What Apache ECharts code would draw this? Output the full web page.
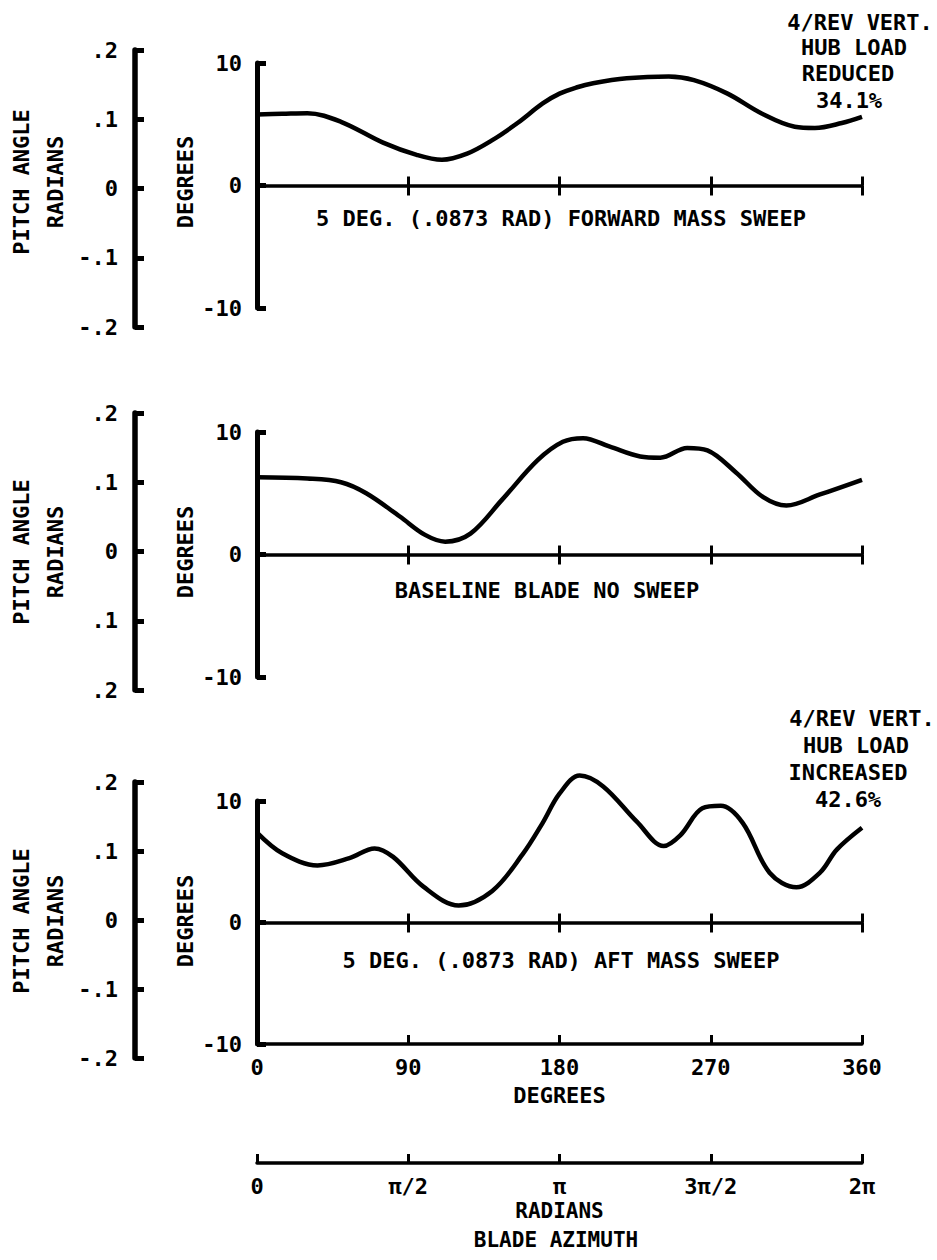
<!DOCTYPE html>
<html>
<head>
<meta charset="utf-8">
<script src="https://cdn.jsdelivr.net/npm/echarts@6/dist/echarts.min.js"></script>
<style>
html,body{margin:0;padding:0;background:#fff;}
#c{width:937px;height:1260px;}
</style>
</head>
<body>
<div id="c"></div>
<script>
// ---- data (blade azimuth in degrees, pitch angle in degrees) ----
const fwdAz    = [0, 15, 30, 50, 75, 95, 110, 125, 140, 155, 170, 180, 190, 200, 220, 245, 260, 280, 300, 320, 332, 348, 360];
const fwdPitch = [5.8, 5.85, 5.9, 5.2, 3.5, 2.5, 2.1, 2.6, 3.7, 5.1, 6.7, 7.5, 8.0, 8.35, 8.75, 8.9, 8.6, 7.5, 5.9, 4.8, 4.7, 5.1, 5.6];

const baseAz    = [0, 30, 50, 65, 85, 100, 112, 127, 146, 167, 182, 194, 210, 228, 240, 256, 268, 285, 301, 315, 335, 360];
const basePitch = [6.3, 6.2, 5.9, 5.0, 3.1, 1.6, 1.05, 1.7, 4.5, 7.7, 9.2, 9.5, 8.8, 8.0, 7.9, 8.7, 8.5, 6.7, 4.7, 4.0, 4.9, 6.1];

const aftAz    = [0, 15, 36, 55, 70, 81, 99, 120, 140, 158, 170, 180, 192, 206, 226, 242, 252, 265, 276, 289, 305, 321, 335, 345, 360];
const aftPitch = [7.4, 5.7, 4.7, 5.3, 6.1, 5.4, 2.95, 1.4, 2.6, 5.6, 8.2, 10.6, 12.1, 11.2, 8.3, 6.3, 7.2, 9.4, 9.6, 8.2, 4.1, 2.9, 4.1, 6.0, 7.8];

// ---- tick labels ----
const degTickLabels  = ['-10', '0', '10'];
const radTickLabelsA = ['-.2', '-.1', '0', '.1', '.2'];
const radTickLabelsB = ['.2', '.1', '0', '.1', '.2'];
const azDegLabels    = ['0', '90', '180', '270', '360'];
const azRadLabels    = ['0', 'π/2', 'π', '3π/2', '2π'];

// ---- texts ----
const captions = ['5 DEG. (.0873 RAD) FORWARD MASS SWEEP', 'BASELINE BLADE NO SWEEP', '5 DEG. (.0873 RAD) AFT MASS SWEEP'];
const noteTop = ['4/REV VERT.', 'HUB LOAD', 'REDUCED', '34.1%'];
const noteBot = ['4/REV VERT.', 'HUB LOAD', 'INCREASED', '42.6%'];

const FONT = '"DejaVu Sans Mono", "Liberation Mono", monospace';
const chart = echarts.init(document.getElementById('c'), null, {renderer: 'svg'});

const L = 257, W = 605;
const degTops = [63, 432, 801];
const degH = [245, 245, 243];
const radTops = [50, 413, 782];
const radH = [277, 277, 276];
const radLabelSets = [radTickLabelsA, radTickLabelsB, radTickLabelsA];

const grid = [], xAxis = [], yAxis = [], series = [];
const lbl = {color: '#000', fontFamily: FONT, fontSize: 22, fontWeight: 'bold'};

function addGrid(g){ grid.push(g); return grid.length - 1; }

const datasets = [[fwdAz, fwdPitch], [baseAz, basePitch], [aftAz, aftPitch]];

for (let p = 0; p < 3; p++) {
  // degrees panel
  const gi = addGrid({left: L, top: degTops[p], width: W, height: degH[p]});
  yAxis.push({type: 'value', gridIndex: gi, min: -10, max: 10, interval: 10,
    axisLine: {show: true, lineStyle: {color: '#000', width: 5}},
    axisTick: {show: true, inside: true, length: 9, lineStyle: {color: '#000', width: 5}},
    axisLabel: Object.assign({margin: 15, formatter: v => degTickLabels[Math.round((v + 10) / 10)]}, lbl),
    splitLine: {show: false}});
  const yi = yAxis.length - 1;
  // zero line with ticks pointing downward
  xAxis.push({type: 'value', gridIndex: gi, min: 0, max: 360, interval: 90, position: 'bottom',
    axisLine: {show: true, onZero: true, lineStyle: {color: '#000', width: 3.5}},
    axisTick: {show: true, inside: false, length: 10, lineStyle: {color: '#000', width: 3}},
    axisLabel: {show: false}, splitLine: {show: false}});
  const xi = xAxis.length - 1;
  const d = datasets[p];
  series.push({type: 'line', xAxisIndex: xi, yAxisIndex: yi, clip: false,
    data: d[0].map((a, i) => [a, d[1][i]]),
    smooth: 0.35, showSymbol: false, symbol: 'none',
    lineStyle: {color: '#000', width: 4.5}, silent: true});

  // upper half grid: zero line ticks pointing upward
  const hi = addGrid({left: L, top: degTops[p], width: W, height: degH[p] / 2});
  yAxis.push({type: 'value', gridIndex: hi, show: false, min: 0, max: 10});
  xAxis.push({type: 'value', gridIndex: hi, min: 0, max: 360, interval: 90, position: 'bottom',
    axisLine: {show: false, onZero: false},
    axisTick: {show: true, inside: true, length: 9, lineStyle: {color: '#000', width: 3}},
    axisLabel: {show: false}, splitLine: {show: false}});

  // radians scale
  const ri = addGrid({left: 135, top: radTops[p], width: 20, height: radH[p]});
  const labs = radLabelSets[p];
  yAxis.push({type: 'value', gridIndex: ri, min: -0.2, max: 0.2, interval: 0.1,
    axisLine: {show: true, lineStyle: {color: '#000', width: 5.5}},
    axisTick: {show: true, inside: true, length: 9, lineStyle: {color: '#000', width: 5}},
    axisLabel: Object.assign({margin: 17, formatter: v => labs[Math.round((v + 0.2) / 0.1)]}, lbl),
    splitLine: {show: false}});
  xAxis.push({type: 'value', gridIndex: ri, show: false, min: 0, max: 1});
}

// bottom degrees axis of panel 3
const gb = addGrid({left: L, top: degTops[2], width: W, height: degH[2]});
yAxis.push({type: 'value', gridIndex: gb, show: false, min: -10, max: 10});
xAxis.push({type: 'value', gridIndex: gb, min: 0, max: 360, interval: 90, position: 'bottom',
  axisLine: {show: true, onZero: false, lineStyle: {color: '#000', width: 3.5}},
  axisTick: {show: true, inside: true, length: 9, lineStyle: {color: '#000', width: 3}},
  axisLabel: Object.assign({margin: 12, formatter: v => azDegLabels[Math.round(v / 90)]}, lbl),
  name: 'DEGREES', nameLocation: 'middle', nameGap: 40,
  nameTextStyle: {color: '#000', fontFamily: FONT, fontSize: 22, fontWeight: 'bold'},
  splitLine: {show: false}});

// bottom radians azimuth axis
const gr = addGrid({left: L, top: 1140, width: W, height: 23});
yAxis.push({type: 'value', gridIndex: gr, show: false, min: 0, max: 1});
xAxis.push({type: 'value', gridIndex: gr, min: 0, max: 360, interval: 90, position: 'bottom',
  axisLine: {show: true, onZero: false, lineStyle: {color: '#000', width: 3.5}},
  axisTick: {show: true, inside: true, length: 9, lineStyle: {color: '#000', width: 3}},
  axisLabel: Object.assign({margin: 12, formatter: v => azRadLabels[Math.round(v / 90)]}, lbl),
  name: 'RADIANS', nameLocation: 'middle', nameGap: 37,
  nameTextStyle: {color: '#000', fontFamily: FONT, fontSize: 21, fontWeight: 'bold'},
  splitLine: {show: false}});

// ---- free texts ----
const graphic = [];
function txt(s, x, y, rot, size) {
  graphic.push({type: 'text', x: x, y: y, rotation: rot || 0, silent: true,
    style: {text: s, fill: '#000', font: 'bold ' + (size || 22) + 'px ' + FONT, textAlign: 'center', textVerticalAlign: 'middle'}});
}
const sideCenters = [182, 552, 921];
for (let p = 0; p < 3; p++) {
  txt('PITCH ANGLE', 21, sideCenters[p], Math.PI / 2);
  txt('RADIANS', 55, sideCenters[p], Math.PI / 2);
  txt('DEGREES', 185, sideCenters[p], Math.PI / 2);
}
txt(captions[0], 561, 218);
txt(captions[1], 547, 590);
txt(captions[2], 561, 960);
const topX = [860, 854, 848, 849], topY = [22, 47, 73, 100];
noteTop.forEach((s, i) => txt(s, topX[i], topY[i]));
const botX = [862, 856, 848, 848], botY = [718, 745, 772, 799];
noteBot.forEach((s, i) => txt(s, botX[i], botY[i]));
txt('BLADE AZIMUTH', 556, 1240, 0, 21);

chart.setOption({
  backgroundColor: '#fff',
  animation: false,
  grid: grid, xAxis: xAxis, yAxis: yAxis, series: series, graphic: graphic
});
</script>
</body>
</html>
